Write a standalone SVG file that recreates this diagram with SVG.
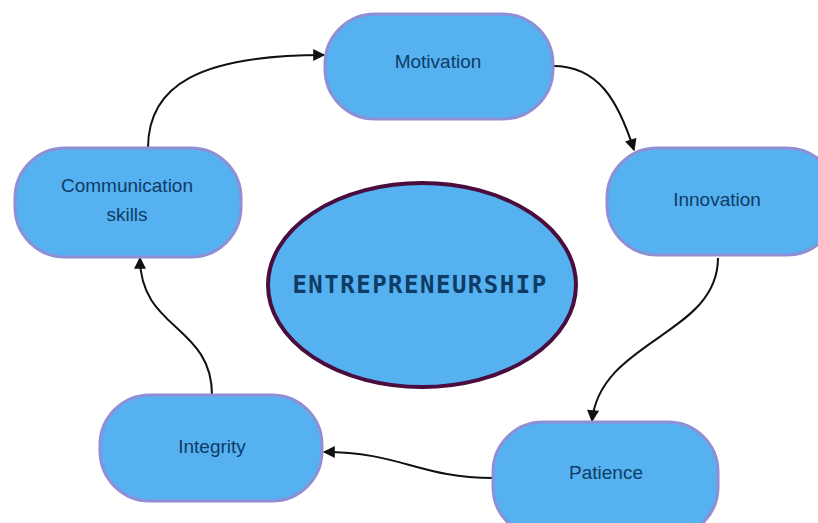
<svg xmlns="http://www.w3.org/2000/svg" width="818" height="523" viewBox="0 0 818 523">
<style>
.node{fill:#55b1f0;stroke:#8f8fd6;stroke-width:3}
.lbl{font-family:"Liberation Sans",Arial,sans-serif;font-size:19px;fill:#0f3c66;text-anchor:middle}
.conn{fill:none;stroke:#111;stroke-width:2}
</style>
<defs>
<marker id="ah" viewBox="0 0 10 10" refX="9" refY="5" markerWidth="13" markerHeight="12" orient="auto" markerUnits="userSpaceOnUse">
<path d="M0,0 L10,5 L0,10 z" fill="#111"/>
</marker>
</defs>
<rect width="818" height="523" fill="#fff"/>
<g id="connectors">
<path class="conn" marker-end="url(#ah)" d="M148,148 C148,85 200,55 324,55"/>
<path class="conn" marker-end="url(#ah)" d="M553,66 C598,66 618,100 634,150"/>
<path class="conn" marker-end="url(#ah)" d="M718,258 C718,335 600,340 592,421"/>
<path class="conn" marker-end="url(#ah)" d="M493,478 C420,478 400,452 324,452"/>
<path class="conn" marker-end="url(#ah)" d="M212,395 C212,325 140,330 140,258"/>
</g>
<g id="center">
<ellipse cx="422" cy="285" rx="154" ry="102" fill="#55b1f0" stroke="#4b0c3e" stroke-width="4"/>
<text x="420" y="293" font-family="'DejaVu Sans Mono',monospace" font-weight="bold" font-size="24" fill="#0f3c66" text-anchor="middle" letter-spacing="1.5">ENTREPRENEURSHIP</text>
</g>
<g id="motivation">
<rect class="node" x="325" y="14" width="228" height="105" rx="50"/>
<text class="lbl" x="438" y="68">Motivation</text>
</g>
<g id="innovation">
<rect class="node" x="607" y="148" width="230" height="107" rx="50"/>
<text class="lbl" x="717" y="206">Innovation</text>
</g>
<g id="communication">
<rect class="node" x="15" y="148" width="226" height="109" rx="50"/>
<text class="lbl" x="127" y="192">Communication</text>
<text class="lbl" x="127" y="221">skills</text>
</g>
<g id="integrity">
<rect class="node" x="100" y="395" width="222" height="106" rx="50"/>
<text class="lbl" x="212" y="453">Integrity</text>
</g>
<g id="patience">
<rect class="node" x="493" y="422" width="225" height="115" rx="50"/>
<text class="lbl" x="606" y="479">Patience</text>
</g>
</svg>
